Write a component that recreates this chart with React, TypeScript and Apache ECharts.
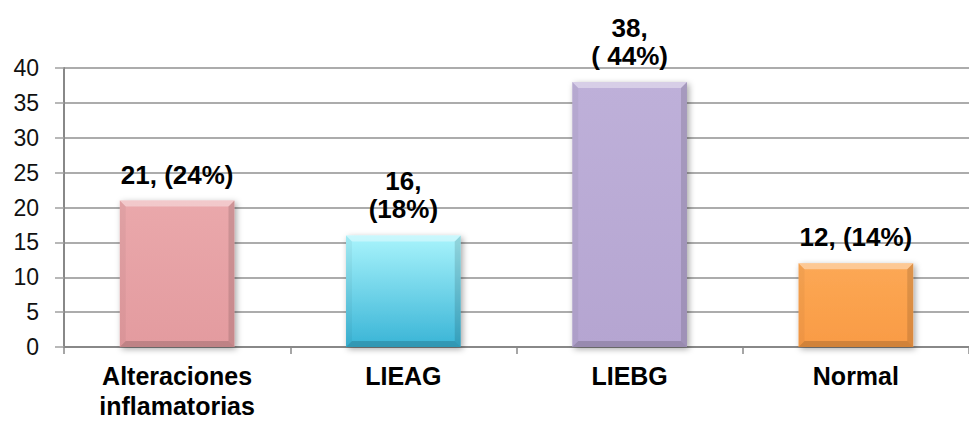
import React, { useEffect, useRef } from "react";
import * as echarts from "echarts";

// Categories and counts
const CATEGORIES = ["Alteraciones\ninflamatorias", "LIEAG", "LIEBG", "Normal"];
const COUNTS = [21, 16, 38, 12];
const PERCENT_TEXT = ["24%", "18%", " 44%", "14%"];
const LABEL_BREAK = [false, true, true, false];

// Value axis ticks
const Y_MIN = 0;
const Y_MAX = 40;
const Y_STEP = 5;

// Bar fills: [top, bottom] of a vertical gradient
const BAR_FILLS: [string, string][] = [
  ["#EAA8AB", "#E39B9F"],
  ["#A9F4FC", "#39B4D6"],
  ["#BEB0D9", "#B5A5D1"],
  ["#FCA855", "#F99B45"],
];

const BAR_RATIO = 0.507;
const BEVEL = 6;

export default function App() {
  const ref = useRef<HTMLDivElement>(null);

  useEffect(() => {
    if (!ref.current) return;
    const chart = echarts.init(ref.current, undefined, { renderer: "svg" });

    const labels = COUNTS.map(
      (v, i) => `${v},${LABEL_BREAK[i] ? "\n" : " "}(${PERCENT_TEXT[i]})`
    );

    const option: any = {
      animation: false,
      backgroundColor: "#ffffff",
      grid: { left: 64, top: 68, width: 916, height: 282 },
      xAxis: {
        type: "category",
        data: CATEGORIES,
        boundaryGap: true,
        axisLine: { lineStyle: { color: "#888888", width: 2 } },
        axisTick: {
          show: true,
          length: 7,
          interval: 0,
          lineStyle: { color: "#888888", width: 1.5 },
        },
        axisLabel: {
          interval: 0,
          margin: 14,
          color: "#000000",
          fontFamily: "Liberation Sans, Arial, sans-serif",
          fontWeight: "bold",
          fontSize: 25,
          lineHeight: 30,
        },
      },
      yAxis: {
        type: "value",
        min: Y_MIN,
        max: Y_MAX,
        interval: Y_STEP,
        axisLine: { show: true, lineStyle: { color: "#888888", width: 2 } },
        axisTick: {
          show: true,
          length: 9,
          lineStyle: { color: "#a0a0a0", width: 1.5 },
        },
        splitLine: { lineStyle: { color: "#919191", width: 1.5 } },
        axisLabel: {
          margin: 25,
          color: "#111111",
          fontFamily: "Liberation Sans, Arial, sans-serif",
          fontSize: 23,
        },
      },
      series: [
        {
          type: "bar",
          data: COUNTS.map((v, i) => ({
            value: v,
            itemStyle: {
              color: new echarts.graphic.LinearGradient(0, 0, 0, 1, [
                { offset: 0, color: BAR_FILLS[i][0] },
                { offset: 1, color: BAR_FILLS[i][1] },
              ]),
            },
          })),
          barWidth: `${BAR_RATIO * 100}%`,
          itemStyle: {
            shadowBlur: 6,
            shadowOffsetX: 2,
            shadowOffsetY: 2,
            shadowColor: "rgba(0,0,0,0.35)",
          },
          label: {
            show: true,
            position: "top",
            distance: 12,
            color: "#000000",
            fontFamily: "Liberation Sans, Arial, sans-serif",
            fontWeight: "bold",
            fontSize: 26,
            lineHeight: 28,
            formatter: (p: any) => labels[p.dataIndex],
          },
          z: 2,
        },
        {
          // Bevel facets laid over each bar
          type: "custom",
          silent: true,
          z: 3,
          data: COUNTS.map((v, i) => [i, v]),
          encode: { x: 0, y: 1 },
          renderItem: (_params: any, api: any) => {
            const idx = api.value(0);
            const v = api.value(1);
            const top = api.coord([idx, v]);
            const bot = api.coord([idx, 0]);
            const bw = api.size([1, 0])[0] * BAR_RATIO;
            const x0 = top[0] - bw / 2;
            const x1 = top[0] + bw / 2;
            const y0 = top[1];
            const y1 = bot[1];
            const b = BEVEL;
            return {
              type: "group",
              children: [
                {
                  type: "polygon",
                  shape: { points: [[x0, y0], [x1, y0], [x1 - b, y0 + b], [x0 + b, y0 + b]] },
                  style: { fill: "rgba(255,255,255,0.38)" },
                },
                {
                  type: "polygon",
                  shape: { points: [[x0, y0], [x0 + b, y0 + b], [x0 + b, y1 - b], [x0, y1]] },
                  style: { fill: "rgba(0,0,0,0.04)" },
                },
                {
                  type: "polygon",
                  shape: { points: [[x1, y0], [x1, y1], [x1 - b, y1 - b], [x1 - b, y0 + b]] },
                  style: { fill: "rgba(0,0,0,0.12)" },
                },
                {
                  type: "polygon",
                  shape: { points: [[x0, y1], [x1, y1], [x1 - b, y1 - b], [x0 + b, y1 - b]] },
                  style: { fill: "rgba(0,0,0,0.16)" },
                },
              ],
            };
          },
        },
      ],
    };

    chart.setOption(option);
    return () => chart.dispose();
  }, []);

  return (
    <div
      ref={ref}
      style={{ position: "fixed", left: 0, top: 0, width: 969, height: 421, background: "#fff" }}
    />
  );
}
